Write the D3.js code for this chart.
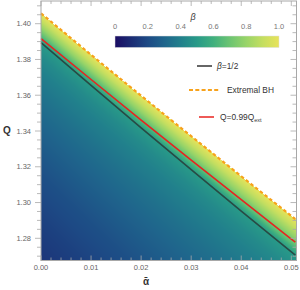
<!DOCTYPE html>
<html>
<head>
<meta charset="UTF-8">
<script src="https://d3js.org/d3.v7.min.js"></script>
<style>
  body { margin: 0; background: #fff; }
  svg text { font-family: "Liberation Sans", Arial, sans-serif; }
</style>
</head>
<body>
<div id="chart"></div>
<script>
// curves
const alphas = [0, 0.01, 0.02, 0.03, 0.04, 0.05, 0.0508];
const qExtremal = [1.4058, 1.3826, 1.3597, 1.3371, 1.3147, 1.2925, 1.2907];
const q099 = [1.3917, 1.3688, 1.3461, 1.3237, 1.3016, 1.2796, 1.2778];
const qHalf = [1.3894, 1.3655, 1.3418, 1.3184, 1.2952, 1.2724, 1.2706];

// beta (t = 1 at the beta=1/2 line)
const depth = [0, 0.25, 0.5, 0.75, 1, 1.5, 2, 3, 4, 5.5, 7, 8.5, 10];
const betaAtDepth = [1, 0.9, 0.79, 0.66, 0.5, 0.44, 0.4, 0.34, 0.29, 0.22, 0.17, 0.13, 0.1];

// colour bar
const barStops = [0, 0.1, 0.2, 0.3, 0.4, 0.5, 0.6, 0.7, 0.8, 0.9, 1];
const barColors = ["#1b0d63", "#1b2c74", "#1d4a85", "#1f658c", "#21808c", "#289a88",
                   "#40b07e", "#6cc472", "#98d468", "#c4de60", "#e8e35a"];
const barTicks = [0, 0.2, 0.4, 0.6, 0.8, 1.0];

const xTicks = [0, 0.01, 0.02, 0.03, 0.04, 0.05];
const yTicks = [1.28, 1.30, 1.32, 1.34, 1.36, 1.38, 1.40];

const W = 300, H = 290;
const svg = d3.select('#chart').append('svg').attr('width', W).attr('height', H);

const x = d3.scaleLinear().domain([0, 0.05]).range([41, 291.3]);
const y = d3.scaleLinear().domain([1.28, 1.40]).range([238.3, 23.7]);
const pL = 41, pR = 296.5, pT = 1, pB = 260.5;

const extAt = d3.scaleLinear().domain(alphas).range(qExtremal);
const halfAt = d3.scaleLinear().domain(alphas).range(qHalf);
const betaOf = d3.scaleLinear().domain(depth).range(betaAtDepth).clamp(true);
const color = d3.scaleLinear().domain(barStops).range(barColors).interpolate(d3.interpolateRgb);

// density field
const cv = document.createElement('canvas');
cv.width = W; cv.height = H;
const ctx = cv.getContext('2d');
const img = ctx.createImageData(W, H);
for (let py = Math.floor(pT); py < Math.ceil(pB); py++) {
  for (let px = pL; px < pR; px++) {
    const a = x.invert(px + 0.5), q = y.invert(py + 0.5);
    const qe = extAt(a);
    if (q > qe) continue;
    const t = (qe - q) / (qe - halfAt(a));
    const c = d3.rgb(color(betaOf(t)));
    const k = (py * W + px) * 4;
    img.data[k] = c.r; img.data[k + 1] = c.g; img.data[k + 2] = c.b; img.data[k + 3] = 255;
  }
}
ctx.putImageData(img, 0, 0);
svg.append('image').attr('href', cv.toDataURL()).attr('x', 0).attr('y', 0)
  .attr('width', W).attr('height', H);

// curves
const pts = qs => alphas.map((a, i) => [a, qs[i]]);
const line = d3.line().x(d => x(d[0])).y(d => y(d[1]));
svg.append('path').attr('d', line(pts(qHalf))).attr('fill', 'none')
  .attr('stroke', '#284a44').attr('stroke-width', 1.6);
svg.append('path').attr('d', line(pts(q099))).attr('fill', 'none')
  .attr('stroke', '#e8231f').attr('stroke-width', 1.6);
svg.append('path').attr('d', line(pts(qExtremal))).attr('fill', 'none')
  .attr('stroke', '#f7a21c').attr('stroke-width', 2.2).attr('stroke-dasharray', '3.5,2.5');

// frame
const gray = '#a8a8a8';
svg.append('rect').attr('x', pL).attr('y', pT).attr('width', pR - pL).attr('height', pB - pT)
  .attr('fill', 'none').attr('stroke', gray).attr('stroke-width', 1);

const xMinor = d3.range(0, 0.0509, 0.002);
const yMinor = d3.range(1.27, 1.4126, 0.005);
const tk = svg.append('g').attr('stroke', gray).attr('stroke-width', 0.8);
xMinor.forEach(v => {
  const major = xTicks.some(m => Math.abs(m - v) < 1e-6);
  const len = major ? 5 : 3;
  tk.append('line').attr('x1', x(v)).attr('x2', x(v)).attr('y1', pB).attr('y2', pB - len);
  tk.append('line').attr('x1', x(v)).attr('x2', x(v)).attr('y1', pT).attr('y2', pT + len);
});
yMinor.filter(v => y(v) <= pB && y(v) >= pT).forEach(v => {
  const major = yTicks.some(m => Math.abs(m - v) < 1e-6);
  const len = major ? 6 : 4;
  tk.append('line').attr('x1', pL).attr('x2', pL - len).attr('y1', y(v)).attr('y2', y(v));
  tk.append('line').attr('x1', pR).attr('x2', pR - len).attr('y1', y(v)).attr('y2', y(v));
});

svg.append('g').selectAll('text').data(xTicks).join('text')
  .attr('x', d => x(d)).attr('y', 270).attr('text-anchor', 'middle')
  .attr('font-size', 7.5).attr('fill', '#666').text(d3.format('.2f'));
svg.append('g').selectAll('text').data(yTicks).join('text')
  .attr('x', 31).attr('y', d => y(d) + 2.6).attr('text-anchor', 'end')
  .attr('font-size', 7.5).attr('fill', '#666').text(d3.format('.2f'));

svg.append('text').attr('x', 7).attr('y', 134).attr('font-size', 10).attr('font-weight', 'bold')
  .attr('fill', '#333').attr('text-anchor', 'middle').text('Q');
svg.append('text').attr('x', 146).attr('y', 285).attr('font-size', 10).attr('font-weight', 'bold')
  .attr('fill', '#333').attr('text-anchor', 'middle').text('ᾱ');

// colour bar
const bx = d3.scaleLinear().domain([0, 1]).range([115, 279]);
const grad = svg.append('defs').append('linearGradient').attr('id', 'bar');
grad.selectAll('stop').data(barStops).join('stop')
  .attr('offset', d => d * 100 + '%').attr('stop-color', (d, i) => barColors[i]);
svg.append('rect').attr('x', bx(0)).attr('y', 36).attr('width', bx(1) - bx(0)).attr('height', 11.5)
  .attr('fill', 'url(#bar)').attr('stroke', '#ddd').attr('stroke-width', 0.5);
svg.append('g').selectAll('text').data(barTicks).join('text')
  .attr('x', d => bx(d)).attr('y', 28.5).attr('text-anchor', 'middle')
  .attr('font-size', 7.5).attr('fill', '#777').text(d => d === 0 ? '0' : d3.format('.1f')(d));
svg.append('text').attr('x', 193).attr('y', 20).attr('font-size', 9).attr('font-style', 'italic')
  .attr('fill', '#444').attr('text-anchor', 'middle').text('β');

// legend
const lg = svg.append('g').attr('font-size', 8.4).attr('fill', '#333');
lg.append('line').attr('x1', 197).attr('x2', 212).attr('y1', 66).attr('y2', 66)
  .attr('stroke', '#333').attr('stroke-width', 1.5);
const t1 = lg.append('text').attr('x', 217).attr('y', 69);
t1.append('tspan').attr('font-style', 'italic').text('β');
t1.append('tspan').text('=1/2');
lg.append('line').attr('x1', 189).attr('x2', 220).attr('y1', 90).attr('y2', 90)
  .attr('stroke', '#f7a21c').attr('stroke-width', 2).attr('stroke-dasharray', '4,2.3');
lg.append('text').attr('x', 227).attr('y', 93).text('Extremal BH');
lg.append('line').attr('x1', 199).attr('x2', 214).attr('y1', 117).attr('y2', 117)
  .attr('stroke', '#e8231f').attr('stroke-width', 1.5);
const t3 = lg.append('text').attr('x', 220).attr('y', 120);
t3.append('tspan').text('Q=0.99Q');
t3.append('tspan').attr('font-size', 5.5).attr('dy', 1.5).text('ext');
</script>
</body>
</html>
